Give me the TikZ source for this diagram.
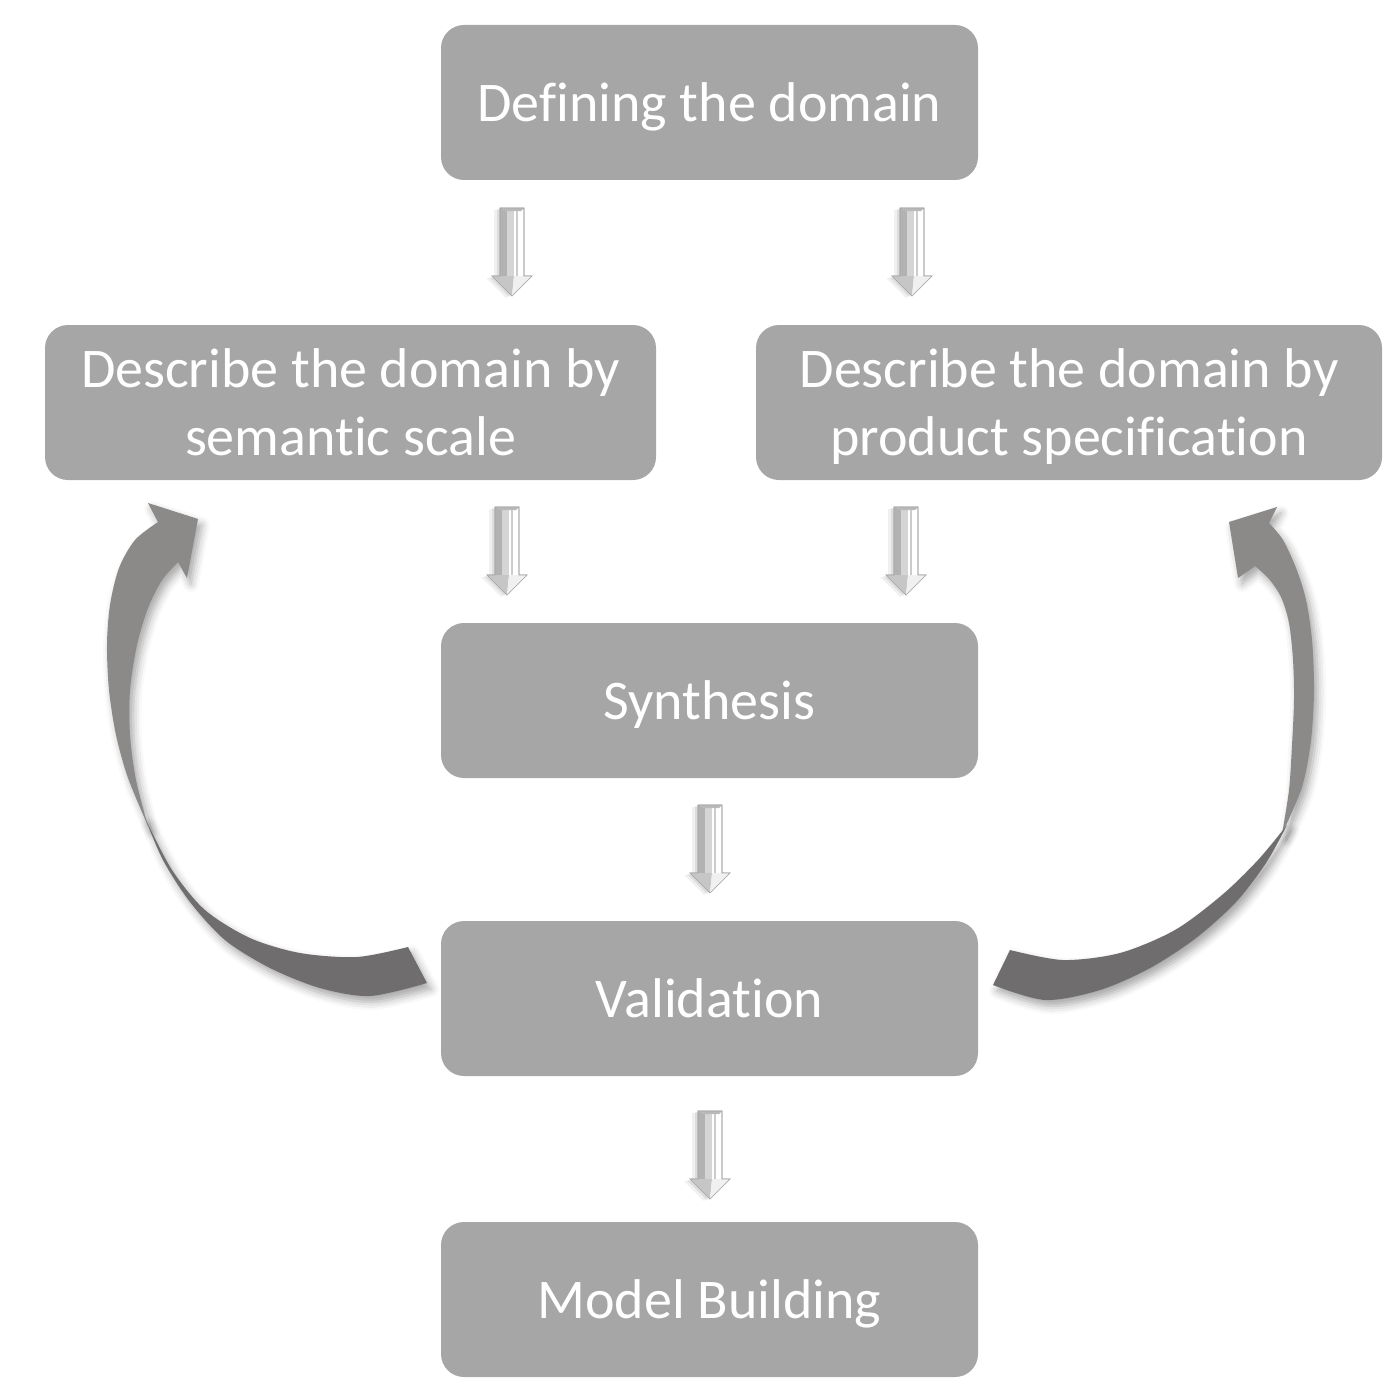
\documentclass[tikz,border=0pt]{standalone}
\usepackage{fontspec}
\setmainfont{Carlito}[Ligatures={NoCommon,NoRare}]
\usetikzlibrary{shadows.blur}
\definecolor{boxgray}{RGB}{166,166,166}
\definecolor{ribLight}{RGB}{140,137,137}
\definecolor{ribDark}{RGB}{111,109,109}
\tikzset{
  stepbox/.style={fill=boxgray, rounded corners=11.5pt, minimum height=77.5pt,
    inner sep=0pt, text=white, font=\fontsize{28}{34}\selectfont, align=center},
  oneline/.style={stepbox, text height=20pt, text depth=1pt},
  twoline/.style={stepbox, text height=54pt, text depth=1.5pt},
  softshadow/.style={blur shadow={shadow xshift=2pt, shadow yshift=-3pt,
    shadow blur radius=4pt, shadow opacity=35}},
  downarrow/.pic={
    \fill[black, opacity=0.06] (-18,-42) -- (6,-42) -- (6,26) -- (14,26) -- (-6,46) -- (-26,26) -- (-18,26) -- cycle;
    \fill[black, opacity=0.08] (-15,-43) -- (9,-43) -- (9,25) -- (17,25) -- (-3,45) -- (-23,25) -- (-15,25) -- cycle;
    \filldraw[fill=white, draw=gray!70, line width=0.3pt]
      (-12,-44) -- (12,-44) -- (12,24) -- (20,24) -- (0,44) -- (-20,24) -- (-12,24) -- cycle;
    \fill[gray!60] (-12,-44) -- (-5,-41) -- (-5,24) -- (-12,24) -- cycle;
    \fill[gray!33] (-5,-41) -- (2,-41) -- (2,24) -- (-5,24) -- cycle;
    \fill[gray!55] (-12,-44) -- (12,-44) -- (9,-41) -- (-5,-41) -- cycle;
    \draw[gray!40, line width=0.6pt] (5,-41) -- (5,24);
    \fill[gray!45] (-20,24) -- (2,24) -- (0,44) -- cycle;
    \fill[gray!12] (2,24) -- (20,24) -- (0,44) -- cycle;
    \draw[gray!70, line width=0.3pt]
      (-12,-44) -- (12,-44) -- (12,24) -- (20,24) -- (0,44) -- (-20,24) -- (-12,24) -- cycle;
  }
}
\begin{document}
\begin{tikzpicture}[x=0.5pt, y=-0.5pt]
\useasboundingbox (0,0) rectangle (1400,1391);

% boxes
\node[oneline, minimum width=268.5pt] (def) at (709.5,102.5) {Defining the domain};
\node[twoline, minimum width=305.5pt] (sem) at (350.5,402.5) {Describe the domain by\\semantic scale};
\node[twoline, minimum width=313pt] (prod) at (1069,402.5) {Describe the domain by\\product specification};
\node[oneline, minimum width=268.5pt] (syn) at (709.5,700.5) {Synthesis};
\node[oneline, minimum width=268.5pt] (val) at (709.5,998.5) {Validation};
\node[oneline, minimum width=268.5pt] (mod) at (709.5,1299.5) {Model Building};

% small block arrows
\pic at (512,252) {downarrow};
\pic at (912,252) {downarrow};
\pic at (507,551) {downarrow};
\pic at (906,551) {downarrow};
\pic at (710,849) {downarrow};
\pic at (710,1155) {downarrow};

% left curved arrow (Validation -> semantic scale)
\path[softshadow] (148,503) -- (198,519) -- (187,578) -- (178,562)
  -- plot[smooth] coordinates {(178,562) (162,580) (148,608) (137,645) (130,690) (130,735) (136,780) (148,826)}
  -- plot[smooth] coordinates {(148,826) (128,778) (116,735) (109,690) (107,645) (110,605) (119,568) (135,540) (158,522)}
  -- cycle;
\path[softshadow] (145,818)
  -- plot[smooth] coordinates {(145,818) (163,860) (190,902) (225,940) (270,968) (320,988) (370,996) (427,983)}
  -- (408,947)
  -- plot[smooth] coordinates {(408,947) (357,957) (300,953) (250,938) (205,910) (172,870) (145,818)}
  -- cycle;
\fill[ribLight] (148,503) -- (198,519) -- (187,578) -- (178,562)
  -- plot[smooth] coordinates {(178,562) (162,580) (148,608) (137,645) (130,690) (130,735) (136,780) (148,826)}
  -- plot[smooth] coordinates {(148,826) (128,778) (116,735) (109,690) (107,645) (110,605) (119,568) (135,540) (158,522)}
  -- cycle;
\fill[ribDark] (145,818)
  -- plot[smooth] coordinates {(145,818) (163,860) (190,902) (225,940) (270,968) (320,988) (370,996) (427,983)}
  -- (408,947)
  -- plot[smooth] coordinates {(408,947) (357,957) (300,953) (250,938) (205,910) (172,870) (145,818)}
  -- cycle;

% right curved arrow (Validation -> product specification)
\path[softshadow] (1229,522) -- (1277,507) -- (1269,523)
  -- plot[smooth] coordinates {(1269,523) (1283,540) (1296,568) (1306,600) (1312,640) (1314,690) (1311,740) (1302,787) (1282,834)}
  -- plot[smooth] coordinates {(1282,834) (1289,790) (1292,745) (1294,700) (1293,660) (1289,623) (1281,597) (1269,579) (1255,566)}
  -- (1238,578) -- cycle;
\path[softshadow] (1287,825)
  -- plot[smooth] coordinates {(1287,825) (1266,863) (1236,902) (1196,938) (1150,968) (1100,990) (1045,1000) (993,985)}
  -- (1010,950)
  -- plot[smooth] coordinates {(1010,950) (1063,960) (1120,953) (1175,930) (1222,895) (1258,860) (1287,825)}
  -- cycle;
\fill[ribLight] (1229,522) -- (1277,507) -- (1269,523)
  -- plot[smooth] coordinates {(1269,523) (1283,540) (1296,568) (1306,600) (1312,640) (1314,690) (1311,740) (1302,787) (1282,834)}
  -- plot[smooth] coordinates {(1282,834) (1289,790) (1292,745) (1294,700) (1293,660) (1289,623) (1281,597) (1269,579) (1255,566)}
  -- (1238,578) -- cycle;
\fill[ribDark] (1287,825)
  -- plot[smooth] coordinates {(1287,825) (1266,863) (1236,902) (1196,938) (1150,968) (1100,990) (1045,1000) (993,985)}
  -- (1010,950)
  -- plot[smooth] coordinates {(1010,950) (1063,960) (1120,953) (1175,930) (1222,895) (1258,860) (1287,825)}
  -- cycle;
\end{tikzpicture}
\end{document}
